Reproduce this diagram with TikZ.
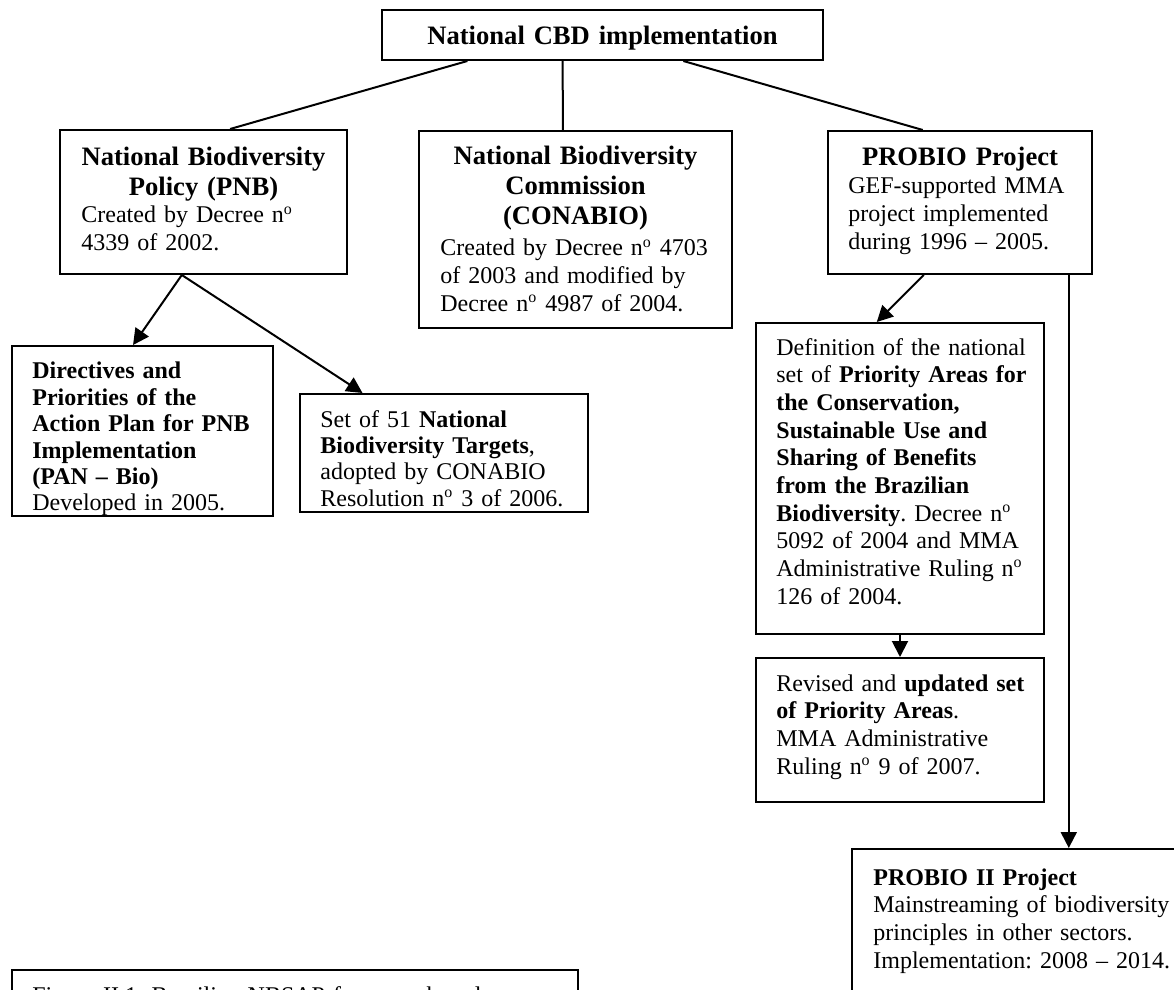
\documentclass[tikz,border=0pt]{standalone}
\usepackage{fontspec}
\setmainfont{Liberation Serif}
\usetikzlibrary{arrows.meta,fit,calc}
\frenchspacing
\begin{document}
\begin{tikzpicture}[x=0.5pt,y=-0.5pt,
  box/.style={draw, line width=1pt, inner sep=0pt, fit={#1}},
  body/.style={inner sep=0pt, anchor=base west, text width=175pt, align=left, font=\fontsize{12}{13.85}\selectfont\frenchspacing},
  tight/.style={font=\fontsize{12}{13.2}\selectfont\frenchspacing},
  head/.style={inner sep=0pt, anchor=base, text width=#1, align=center, font=\fontsize{13.3}{15}\selectfont\bfseries},
  conn/.style={line width=1pt},
  arr/.style={line width=1pt, -{Triangle[length=8pt,width=8pt]}},
]
\useasboundingbox (0,0) rectangle (1174,990);
\clip (0,0) rectangle (1174,990);
\fill[white] (0,0) rectangle (1174,990);

% top
\node[box={(382,10) (823,60)}] (cbd) {};
\node[head=220pt] (cbdt) at (602.5,45) {National CBD implementation};

% PNB
\node[box={(60,130) (347,274)}] (pnb) {};
\node[head=143.5pt] (pnbh) at (203.5,166) {National Biodiversity\\Policy (PNB)};
\node[body] (pnbb) at (81,223) {Created by Decree n\textsuperscript{o}\\4339 of 2002.};

% CONABIO
\node[box={(419,131) (732,328)}] (con) {};
\node[head=156pt] (conh) at (575.5,165) {National Biodiversity\\Commission\\(CONABIO)};
\node[body] (conb) at (440,256) {Created by Decree n\textsuperscript{o} 4703\\of 2003 and modified by\\Decree n\textsuperscript{o} 4987 of 2004.};

% PROBIO
\node[box={(828,131) (1092,274)}] (probio) {};
\node[head=132pt] (probioh) at (960,166) {PROBIO Project};
\node[body] (probiob) at (848,194) {GEF-supported MMA\\project implemented\\during 1996 – 2005.};

% Directives
\node[box={(12,346) (273,516)}] (dir) {};
\node[body, tight] (dirb) at (32,379) {\textbf{Directives and}\\\textbf{Priorities of the}\\\textbf{Action Plan for PNB}\\\textbf{Implementation}\\\textbf{(PAN – Bio)}\\Developed in 2005.};

% Targets
\node[box={(300,394) (588,512)}] (tgt) {};
\node[body, tight] (tgtb) at (320,427) {Set of 51 \textbf{National}\\\textbf{Biodiversity Targets},\\adopted by CONABIO\\Resolution n\textsuperscript{o} 3 of 2006.};

% Definition
\node[box={(756,323) (1044,634)}] (def) {};
\node[body] (defb) at (776,355) {Definition of the national\\set of \textbf{Priority Areas for}\\\textbf{the Conservation,}\\\textbf{Sustainable Use and}\\\textbf{Sharing of Benefits}\\\textbf{from the Brazilian}\\\textbf{Biodiversity}. Decree n\textsuperscript{o}\\5092 of 2004 and MMA\\Administrative Ruling n\textsuperscript{o}\\126 of 2004.};

% Revised
\node[box={(756,658) (1044,802)}] (rev) {};
\node[body] (revb) at (776,691) {Revised and \textbf{updated set}\\\textbf{of Priority Areas}.\\MMA Administrative\\Ruling n\textsuperscript{o} 9 of 2007.};

% PROBIO II
\node[box={(852,849) (1250,1100)}] (p2) {};
\node[body] (p2b) at (873,885) {\textbf{PROBIO II Project}\\Mainstreaming of biodiversity\\principles in other sectors.\\Implementation: 2008 – 2014.};

% Caption
\node[box={(12,970) (578,1100)}] (cap) {};
\node[body, text width=300pt] (capb) at (32,1003) {Figure II.1: Brazilian NBSAP framework and};

% connectors
\draw[conn] ($(cbd.south west)!0.195!(cbd.south east)$) -- ($(pnb.north west)!0.592!(pnb.north east)$);
\draw[conn] ($(cbd.south west)!0.41!(cbd.south east)$) -- ($(con.north west)!0.46!(con.north east)$);
\draw[conn] ($(cbd.south west)!0.6825!(cbd.south east)$) -- ($(probio.north west)!0.36!(probio.north east)$);

\coordinate (pnbout) at ($(pnb.south west)!0.425!(pnb.south east)$);
\draw[arr] (pnbout) -- ($(dir.north west)!0.464!(dir.north east)$);
\draw[arr] (pnbout) -- ($(tgt.north west)!0.219!(tgt.north east)$);
\draw[arr] ($(probio.south west)!0.364!(probio.south east)$) -- ($(def.north west)!0.42!(def.north east)$);
\draw[arr] (def.south) -- (rev.north);
\coordinate (vtop) at ($(probio.south west)!0.909!(probio.south east)$);
\draw[arr] (vtop) -- (vtop |- p2.north);
\end{tikzpicture}
\end{document}
